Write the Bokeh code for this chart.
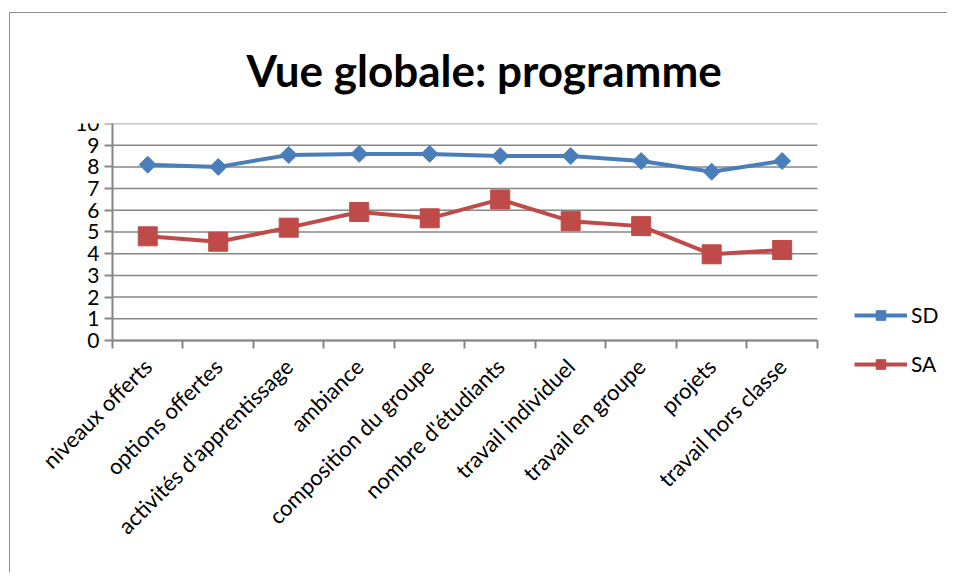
import math
from bokeh.plotting import figure
from bokeh.models import (ColumnDataSource, Range1d, LinearAxis,
                          FixedTicker, Legend, LegendItem)
from bokeh.embed import file_html
from bokeh.resources import INLINE

categories = ["niveaux offerts", "options offertes", "activités d'apprentissage",
              "ambiance", "composition du groupe", "nombre d'étudiants",
              "travail individuel", "travail en groupe", "projets", "travail hors classe"]
series_names = ["SD", "SA"]
sd_values = [8.1, 8.0, 8.55, 8.6, 8.6, 8.5, 8.5, 8.27, 7.78, 8.27]
sa_values = [4.8, 4.55, 5.2, 5.92, 5.63, 6.5, 5.5, 5.27, 3.97, 4.17]
y_ticks = list(range(0, 11))

FONT = "Lato"
GRID = "#868686"
BLUE = "#4A7EBB"
RED = "#BE4B48"

n = len(categories)
centres = [i + 0.5 for i in range(n)]
edges = list(range(n + 1))
source = ColumnDataSource(dict(x=centres, cat=categories, sd=sd_values, sa=sa_values))
grid_src = ColumnDataSource(dict(x0=[0] * len(y_ticks), x1=[n] * len(y_ticks),
                                 y=y_ticks))

# the frame covers the whole area below the title so that the rotated
# category labels, the value labels and the legend are all drawn inside it
p = figure(width=938, height=560, x_range=Range1d(-1.447, 11.86),
           y_range=Range1d(-10.74, 10),
           x_axis_location=None, y_axis_location=None,
           output_backend="svg", toolbar_location=None,
           min_border_left=0, min_border_right=0, min_border_top=110,
           min_border_bottom=0,
           styles={"margin-left": "9px", "margin-top": "12px",
                   "border-left": "1px solid #8c8c8c", "border-top": "1px solid #8c8c8c"})
p.outline_line_color = None
p.background_fill_color = "white"
p.border_fill_color = "white"

# title
p.title.text = "Vue globale: programme"
p.title.text_font = FONT
p.title.text_font_size = "44px"
p.title.text_font_style = "bold"
p.title.text_color = "black"
p.title.align = "left"
p.title.offset = 236
p.title.standoff = 56

# y axis at x = 0
y_axis = LinearAxis(fixed_location=0, bounds=(y_ticks[0], y_ticks[-1]),
                    ticker=FixedTicker(ticks=y_ticks),
                    axis_line_color=GRID, axis_line_width=2,
                    major_tick_line_color=GRID, major_tick_line_width=2,
                    major_tick_out=8, major_tick_in=0,
                    minor_tick_line_color=None,
                    major_label_text_font=FONT,
                    major_label_text_font_size="21px",
                    major_label_text_color="black",
                    major_label_standoff=5)
p.add_layout(y_axis, "left")

p.grid.visible = False
# horizontal gridlines limited to the category span
p.segment(x0="x0", x1="x1", y0="y", y1="y", source=grid_src,
          line_color=GRID, line_width=1.5)

# x axis at y = 0: labels at category centres, tick marks at category boundaries
x_axis = LinearAxis(fixed_location=0, bounds=(0, n),
                    ticker=FixedTicker(ticks=centres, minor_ticks=edges),
                    major_label_overrides={c: name for c, name in zip(centres, categories)},
                    axis_line_color=GRID, axis_line_width=2,
                    major_tick_line_color=None, major_tick_out=0, major_tick_in=0,
                    minor_tick_line_color=GRID, minor_tick_line_width=2,
                    minor_tick_out=8, minor_tick_in=0,
                    major_label_orientation=math.pi / 4,
                    major_label_text_font=FONT,
                    major_label_text_font_size="22px",
                    major_label_text_color="black",
                    major_label_standoff=14)
p.add_layout(x_axis, "below")

# series
sd_line = p.line(x="x", y="sd", source=source, line_width=4, line_color=BLUE)
sd_pts = p.scatter(x="x", y="sd", source=source, marker="square", angle=math.pi / 4,
                   size=12, fill_color=BLUE, line_color=BLUE)
sa_line = p.line(x="x", y="sa", source=source, line_width=4, line_color=RED)
sa_pts = p.scatter(x="x", y="sa", source=source, marker="square", size=19,
                   fill_color=RED, line_color=RED)

legend = Legend(items=[LegendItem(label=series_names[0], renderers=[sd_line, sd_pts]),
                       LegendItem(label=series_names[1], renderers=[sa_line, sa_pts])],
                location=(844, 197), orientation="vertical",
                glyph_width=53, glyph_height=24, label_height=24, spacing=24,
                label_standoff=4, padding=0, margin=0,
                border_line_color=None, background_fill_alpha=0,
                label_text_font=FONT, label_text_font_size="21px",
                label_text_color="black")
p.add_layout(legend, "center")

open("out.html", "w").write(file_html(p, INLINE))
